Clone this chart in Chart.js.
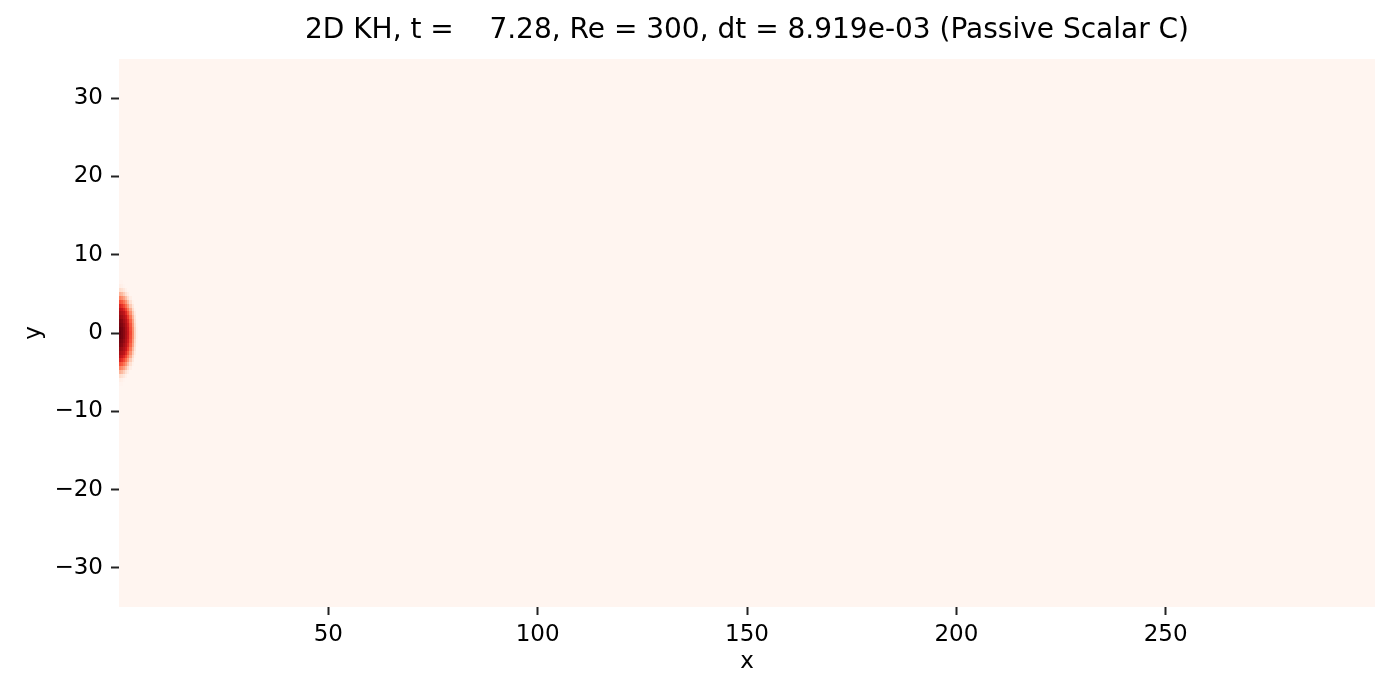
<!DOCTYPE html>
<html lang="en">
<head>
    <meta charset="UTF-8">
    <title>2D KH Passive Scalar</title>
    <script src="https://cdn.jsdelivr.net/npm/chart.js"></script>
    <style>
        body {
            margin: 0;
            padding: 0;
            background: #fff;
        }

        #wrap {
            width: 1400px;
            height: 700px;
        }
    </style>
</head>
<body>
    <div id="wrap"><canvas id="scalarChart" width="1400" height="700"></canvas></div>
    <script>
        // Domain of the plot
        const xLimits = [0, 300];
        const yLimits = [-35, 35];
        const xTickValues = [50, 100, 150, 200, 250];
        const yTickValues = [-30, -20, -10, 0, 10, 20, 30];

        // Cell centres of the scalar blob near the inflow (everything else is ~0)
        const xCenters = [0.25, 0.75, 1.25, 1.75, 2.25, 2.75, 3.25, 3.75, 4.25, 4.75];
        const yCenters = [7, 6.5, 6, 5.5, 5, 4.5, 4, 3.5, 3, 2.5, 2, 1.5, 1, 0.5, 0,
                          -0.5, -1, -1.5, -2, -2.5, -3, -3.5, -4, -4.5, -5, -5.5, -6, -6.5, -7];
        const cellW = 0.5;
        const cellH = 0.5;

        // Normalised concentration C, one row per yCenters entry
        const concentration = [
            [0.00, 0.00, 0.00, 0.00, 0.00, 0.00, 0.00, 0.00, 0.00, 0.00],
            [0.01, 0.01, 0.00, 0.00, 0.00, 0.00, 0.00, 0.00, 0.00, 0.00],
            [0.04, 0.03, 0.01, 0.00, 0.00, 0.00, 0.00, 0.00, 0.00, 0.00],
            [0.14, 0.12, 0.08, 0.03, 0.00, 0.00, 0.00, 0.00, 0.00, 0.00],
            [0.28, 0.25, 0.19, 0.12, 0.05, 0.00, 0.00, 0.00, 0.00, 0.00],
            [0.43, 0.39, 0.33, 0.24, 0.14, 0.04, 0.00, 0.00, 0.00, 0.00],
            [0.57, 0.54, 0.47, 0.37, 0.24, 0.12, 0.02, 0.00, 0.00, 0.00],
            [0.70, 0.66, 0.59, 0.49, 0.35, 0.20, 0.08, 0.00, 0.00, 0.00],
            [0.80, 0.76, 0.70, 0.60, 0.46, 0.30, 0.14, 0.02, 0.00, 0.00],
            [0.87, 0.84, 0.79, 0.69, 0.55, 0.38, 0.20, 0.06, 0.00, 0.00],
            [0.91, 0.89, 0.84, 0.76, 0.63, 0.46, 0.26, 0.10, 0.00, 0.00],
            [0.95, 0.93, 0.88, 0.81, 0.69, 0.52, 0.32, 0.13, 0.01, 0.00],
            [0.97, 0.95, 0.91, 0.84, 0.73, 0.56, 0.35, 0.15, 0.02, 0.00],
            [0.99, 0.97, 0.93, 0.86, 0.75, 0.58, 0.38, 0.17, 0.03, 0.00],
            [1.00, 0.97, 0.93, 0.87, 0.76, 0.59, 0.39, 0.17, 0.03, 0.00],
            [0.99, 0.97, 0.93, 0.86, 0.75, 0.58, 0.38, 0.17, 0.03, 0.00],
            [0.97, 0.95, 0.91, 0.84, 0.73, 0.56, 0.35, 0.15, 0.02, 0.00],
            [0.95, 0.93, 0.88, 0.81, 0.69, 0.52, 0.32, 0.13, 0.01, 0.00],
            [0.91, 0.89, 0.84, 0.76, 0.63, 0.46, 0.26, 0.10, 0.00, 0.00],
            [0.87, 0.84, 0.79, 0.69, 0.55, 0.38, 0.20, 0.06, 0.00, 0.00],
            [0.80, 0.76, 0.70, 0.60, 0.46, 0.30, 0.14, 0.02, 0.00, 0.00],
            [0.70, 0.66, 0.59, 0.49, 0.35, 0.20, 0.08, 0.00, 0.00, 0.00],
            [0.57, 0.54, 0.47, 0.37, 0.24, 0.12, 0.02, 0.00, 0.00, 0.00],
            [0.43, 0.39, 0.33, 0.24, 0.14, 0.04, 0.00, 0.00, 0.00, 0.00],
            [0.28, 0.25, 0.19, 0.12, 0.05, 0.00, 0.00, 0.00, 0.00, 0.00],
            [0.14, 0.12, 0.08, 0.03, 0.00, 0.00, 0.00, 0.00, 0.00, 0.00],
            [0.04, 0.03, 0.01, 0.00, 0.00, 0.00, 0.00, 0.00, 0.00, 0.00],
            [0.01, 0.01, 0.00, 0.00, 0.00, 0.00, 0.00, 0.00, 0.00, 0.00],
            [0.00, 0.00, 0.00, 0.00, 0.00, 0.00, 0.00, 0.00, 0.00, 0.00]
        ];
        const backgroundValue = 0;

        // matplotlib "Reds"
        const redsStops = ['#fff5f0', '#fee0d2', '#fcbba1', '#fc9272', '#fb6a4a',
                           '#ef3b2c', '#cb181d', '#a50f15', '#67000d'];

        const titleText = '2D KH, t =    7.28, Re = 300, dt = 8.919e-03 (Passive Scalar C)';

        function hexToRgb(h) {
            return [parseInt(h.slice(1, 3), 16), parseInt(h.slice(3, 5), 16), parseInt(h.slice(5, 7), 16)];
        }
        const redsRgb = redsStops.map(hexToRgb);

        function reds(v) {
            v = Math.max(0, Math.min(1, v));
            const pos = v * (redsRgb.length - 1);
            const i = Math.min(Math.floor(pos), redsRgb.length - 2);
            const f = pos - i;
            const a = redsRgb[i], b = redsRgb[i + 1];
            const c = a.map((ch, k) => Math.round(ch + (b[k] - ch) * f));
            return 'rgb(' + c.join(',') + ')';
        }

        // build the cell list for the dataset
        const cells = [];
        yCenters.forEach((y, r) => {
            xCenters.forEach((x, c) => {
                cells.push({ x: x, y: y, v: concentration[r][c] });
            });
        });

        // draws every cell as a rectangle placed by the chart's scales
        const heatmapPlugin = {
            id: 'heatmap',
            beforeDatasetsDraw(chart) {
                const { ctx, chartArea, scales } = chart;
                const xs = scales.x, ys = scales.y;
                ctx.save();
                ctx.beginPath();
                ctx.rect(chartArea.left, chartArea.top, chartArea.width, chartArea.height);
                ctx.clip();

                // whole domain at background value
                const bx0 = Math.round(xs.getPixelForValue(xLimits[0]));
                const bx1 = Math.round(xs.getPixelForValue(xLimits[1]));
                const by0 = Math.round(ys.getPixelForValue(yLimits[1]));
                const by1 = Math.round(ys.getPixelForValue(yLimits[0]));
                ctx.fillStyle = reds(backgroundValue);
                ctx.fillRect(bx0, by0, bx1 - bx0, by1 - by0);

                chart.data.datasets[0].data.forEach(cell => {
                    const x0 = Math.round(xs.getPixelForValue(cell.x - cellW / 2));
                    const x1 = Math.round(xs.getPixelForValue(cell.x + cellW / 2));
                    const y0 = Math.round(ys.getPixelForValue(cell.y + cellH / 2));
                    const y1 = Math.round(ys.getPixelForValue(cell.y - cellH / 2));
                    ctx.fillStyle = reds(cell.v);
                    ctx.fillRect(x0, y0, x1 - x0, y1 - y0);
                });
                ctx.restore();
            }
        };

        const tickFont = { family: 'DejaVu Sans', size: 23 };

        new Chart(document.getElementById('scalarChart'), {
            type: 'scatter',
            data: {
                datasets: [{
                    label: 'C',
                    data: cells,
                    pointRadius: 0,
                    pointHoverRadius: 0
                }]
            },
            options: {
                responsive: false,
                animation: false,
                events: [],
                layout: { padding: { left: 0, right: 25, top: 0, bottom: 0 } },
                plugins: {
                    legend: { display: false },
                    tooltip: { enabled: false },
                    title: {
                        display: true,
                        text: titleText,
                        fullSize: false,
                        color: '#000',
                        font: { family: 'DejaVu Sans', size: 28, weight: 'normal' },
                        padding: { top: 14, bottom: 11.4 }
                    }
                },
                scales: {
                    x: {
                        type: 'linear',
                        min: xLimits[0],
                        max: xLimits[1],
                        border: { display: false },
                        grid: { drawOnChartArea: false, drawTicks: true, tickLength: 8, tickWidth: 2, tickColor: '#222' },
                        afterBuildTicks: scale => { scale.ticks = xTickValues.map(v => ({ value: v })); },
                        afterFit: scale => { scale.height = 93; },
                        ticks: { color: '#000', font: tickFont, padding: 6, maxRotation: 0 },
                        title: { display: true, text: 'x', color: '#000', font: tickFont, padding: { top: 0, bottom: 24 } }
                    },
                    y: {
                        type: 'linear',
                        min: yLimits[0],
                        max: yLimits[1],
                        border: { display: false },
                        grid: { drawOnChartArea: false, drawTicks: true, tickLength: 8, tickWidth: 2, tickColor: '#222' },
                        afterBuildTicks: scale => { scale.ticks = yTickValues.map(v => ({ value: v })); },
                        afterFit: scale => { scale.width = 119; },
                        ticks: {
                            color: '#000',
                            font: tickFont,
                            padding: 8,
                            callback: v => (v < 0 ? '\u2212' + Math.abs(v) : String(v))
                        },
                        title: { display: true, text: 'y', color: '#000', font: tickFont, padding: { top: 20, bottom: 0 } }
                    }
                }
            },
            plugins: [heatmapPlugin]
        });
    </script>
</body>
</html>
